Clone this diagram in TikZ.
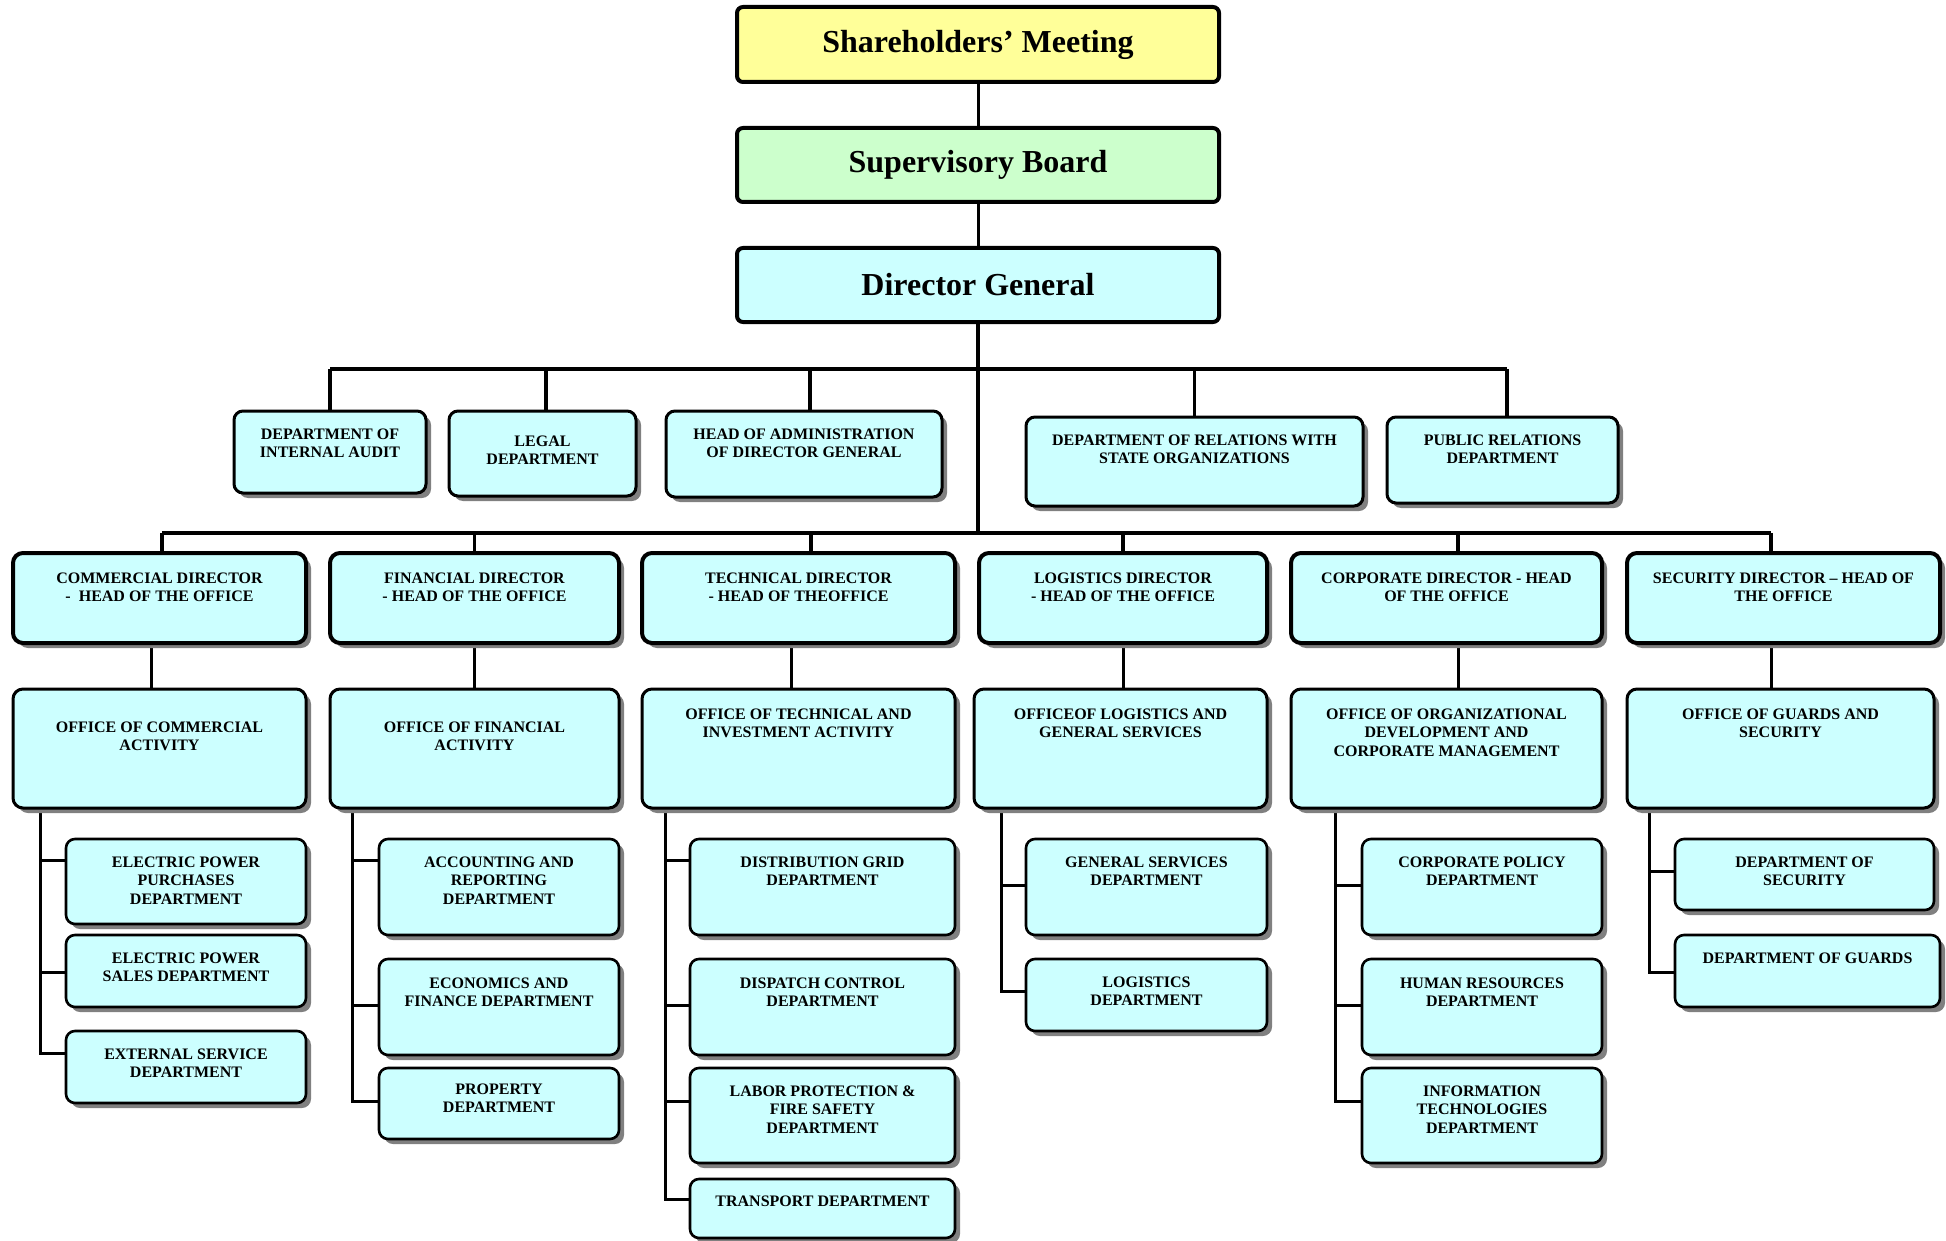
\documentclass[tikz,border=0pt]{standalone}
\usepackage{fontspec}
\setmainfont{Liberation Serif}
\usetikzlibrary{shadows}
\pgfdeclarelayer{bg}
\pgfsetlayers{bg,main}
\definecolor{cy}{HTML}{CCFFFF}
\definecolor{yl}{HTML}{FFFF99}
\definecolor{gr}{HTML}{CCFFCC}
\definecolor{shd}{HTML}{808080}
\tikzset{
  boxbase/.style={draw, inner sep=0pt, fill=cy},
  shd/.style={general shadow={fill=shd, shadow xshift=5pt, shadow yshift=-5pt}},
  smallfont/.style={font=\bfseries\fontsize{16}{18.5}\selectfont},
  topbox/.style={boxbase, line width=4pt, rounded corners=6pt, font=\bfseries\fontsize{32}{36}\selectfont},
  stf/.style={boxbase, shd, line width=3pt, rounded corners=9pt, smallfont},
  dir/.style={boxbase, shd, line width=4pt, rounded corners=10pt, smallfont},
  off/.style={boxbase, shd, line width=3pt, rounded corners=10pt, smallfont},
  leaf/.style={boxbase, shd, line width=2.6pt, rounded corners=9pt, smallfont},
  bus/.style={line width=3.3pt},
  link/.style={line width=3pt},
  spine/.style={line width=2.5pt},
}
% #1 style, #2 name, #3 x1, #4 y1, #5 x2, #6 y2, #7 first baseline from top, #8 text
\newcommand\bx[8]{%
  \node[#1] (#2) at ({(#3+#5)/2},{(#4+#6)/2})
    {\parbox[c][\dimexpr#6pt-#4pt\relax][t]{\dimexpr#5pt-#3pt\relax}{\centering\rule{0pt}{#7pt}#8}};}
\newcommand\tbx[7]{%
  \node[#1] (#2) at ({(#3+#5)/2},{(#4+#6)/2})
    {\parbox[c][\dimexpr#6pt-#4pt\relax][c]{\dimexpr#5pt-#3pt\relax}{\centering #7}};}
\newcommand\brn[3]{%
  \path (#1.north west) ++(0,#2) coordinate (#1-b);
  \begin{pgfonlayer}{bg}\draw[spine] (#1-b -| #3) -- (#1-b);\end{pgfonlayer}}
\begin{document}
\begin{tikzpicture}[x=1pt,y=-1pt]
\useasboundingbox (0,0) rectangle (1946,1241);
\begin{pgfonlayer}{bg}
\fill[white] (0,0) rectangle (1946,1241);
\end{pgfonlayer}
% top
\tbx{topbox, fill=yl}{share}{737}{7}{1219}{82}{Shareholders’ Meeting}
\tbx{topbox, fill=gr}{super}{737}{128}{1219}{202}{Supervisory Board}
\tbx{topbox}{dg}{737}{248}{1219}{322}{Director General}
% staff
\bx{stf}{audit}{234}{411}{426}{493}{28}{DEPARTMENT OF\\INTERNAL AUDIT}
\bx{stf}{legal}{449}{411}{636}{496}{35}{LEGAL\\DEPARTMENT}
\bx{stf}{admin}{666}{411}{942}{497}{28}{HEAD OF ADMINISTRATION\\OF DIRECTOR GENERAL}
\bx{stf}{state}{1026}{417}{1363}{506}{28}{DEPARTMENT OF RELATIONS WITH\\STATE ORGANIZATIONS}
\bx{stf}{pr}{1387}{417}{1618}{503}{28}{PUBLIC RELATIONS\\DEPARTMENT}
% directors
\bx{dir}{comdir}{13}{553}{306}{643}{30}{COMMERCIAL DIRECTOR\\-\ \ HEAD OF THE OFFICE}
\bx{dir}{findir}{330}{553}{619}{643}{30}{FINANCIAL DIRECTOR\\- HEAD OF THE OFFICE}
\bx{dir}{tecdir}{642}{553}{955}{643}{30}{TECHNICAL DIRECTOR\\- HEAD OF THEOFFICE}
\bx{dir}{logdir}{979}{553}{1267}{643}{30}{LOGISTICS DIRECTOR\\- HEAD OF THE OFFICE}
\bx{dir}{cordir}{1291}{553}{1602}{643}{30}{CORPORATE DIRECTOR - HEAD\\OF THE OFFICE}
\bx{dir}{secdir}{1627}{553}{1940}{643}{30}{SECURITY DIRECTOR – HEAD OF\\THE OFFICE}
% offices
\bx{off}{comoff}{13}{689}{306}{808}{43}{OFFICE OF COMMERCIAL\\ACTIVITY}
\bx{off}{finoff}{330}{689}{619}{808}{43}{OFFICE OF FINANCIAL\\ACTIVITY}
\bx{off}{tecoff}{642}{689}{955}{808}{30}{OFFICE OF TECHNICAL AND\\INVESTMENT ACTIVITY}
\bx{off}{logoff}{974}{689}{1267}{808}{30}{OFFICEOF LOGISTICS AND\\GENERAL SERVICES}
\bx{off}{coroff}{1291}{689}{1602}{808}{30}{OFFICE OF ORGANIZATIONAL\\DEVELOPMENT AND\\CORPORATE MANAGEMENT}
\bx{off}{secoff}{1627}{689}{1934}{808}{30}{OFFICE OF GUARDS AND\\SECURITY}
% leaves: commercial
\bx{leaf}{purch}{66}{839}{306}{924}{28}{ELECTRIC POWER\\PURCHASES\\DEPARTMENT}
\bx{leaf}{sales}{66}{935}{306}{1007}{28}{ELECTRIC POWER\\SALES DEPARTMENT}
\bx{leaf}{ext}{66}{1031}{306}{1103}{28}{EXTERNAL SERVICE\\DEPARTMENT}
% financial
\bx{leaf}{acc}{379}{839}{619}{935}{28}{ACCOUNTING AND\\REPORTING\\DEPARTMENT}
\bx{leaf}{eco}{379}{959}{619}{1055}{29}{ECONOMICS AND\\FINANCE DEPARTMENT}
\bx{leaf}{prop}{379}{1068}{619}{1139}{26}{PROPERTY\\DEPARTMENT}
% technical
\bx{leaf}{dist}{690}{839}{955}{935}{28}{DISTRIBUTION GRID\\DEPARTMENT}
\bx{leaf}{disp}{690}{959}{955}{1055}{29}{DISPATCH CONTROL\\DEPARTMENT}
\bx{leaf}{labor}{690}{1068}{955}{1163}{28}{LABOR PROTECTION \&\\FIRE SAFETY\\DEPARTMENT}
\bx{leaf}{trans}{690}{1179}{955}{1238}{27}{TRANSPORT DEPARTMENT}
% logistics
\bx{leaf}{gen}{1026}{839}{1267}{935}{28}{GENERAL SERVICES\\DEPARTMENT}
\bx{leaf}{logd}{1026}{959}{1267}{1031}{28}{LOGISTICS\\DEPARTMENT}
% corporate
\bx{leaf}{cpol}{1362}{839}{1602}{935}{28}{CORPORATE POLICY\\DEPARTMENT}
\bx{leaf}{hr}{1362}{959}{1602}{1055}{29}{HUMAN RESOURCES\\DEPARTMENT}
\bx{leaf}{it}{1362}{1068}{1602}{1163}{28}{INFORMATION\\TECHNOLOGIES\\DEPARTMENT}
% security
\bx{leaf}{sdep}{1675}{839}{1934}{910}{28}{DEPARTMENT OF\\SECURITY}
\bx{leaf}{guard}{1675}{935}{1940}{1007}{28}{DEPARTMENT OF GUARDS}

% connectors
\coordinate (bus1) at (978,369);
\coordinate (bus2) at (978,533);
\begin{pgfonlayer}{bg}
\draw[link] (share.south) -- (super.north);
\draw[link] (super.south) -- (dg.north);
\draw[bus] (dg.south) -- (bus2);
% bus 1
\draw[bus] (audit.north |- bus1) -- ([xshift=4.5pt]pr.north |- bus1);
\draw[bus] (audit.north) -- (audit.north |- bus1);
\draw[bus] ([xshift=3.5pt]legal.north) -- ([xshift=3.5pt]legal.north |- bus1);
\draw[bus] ([xshift=6pt]admin.north) -- ([xshift=6pt]admin.north |- bus1);
\draw[bus] (state.north) -- (state.north |- bus1);
\draw[bus] ([xshift=4.5pt]pr.north) -- ([xshift=4.5pt]pr.north |- bus1);
% bus 2
\draw[bus] ([xshift=2.5pt]comdir.north |- bus2) -- ([xshift=-12.5pt]secdir.north |- bus2);
\draw[bus] ([xshift=2.5pt]comdir.north) -- ([xshift=2.5pt]comdir.north |- bus2);
\draw[bus] (findir.north) -- (findir.north |- bus2);
\draw[bus] ([xshift=12.5pt]tecdir.north) -- ([xshift=12.5pt]tecdir.north |- bus2);
\draw[bus] (logdir.north) -- (logdir.north |- bus2);
\draw[bus] ([xshift=11.5pt]cordir.north) -- ([xshift=11.5pt]cordir.north |- bus2);
\draw[bus] ([xshift=-12.5pt]secdir.north) -- ([xshift=-12.5pt]secdir.north |- bus2);
% director -> office
\draw[link] ([xshift=-8.5pt]comdir.south) -- ([xshift=-8.5pt]comdir.south |- comoff.north);
\draw[link] (findir.south) -- (finoff.north);
\draw[link] ([xshift=-7.5pt]tecdir.south) -- ([xshift=-7.5pt]tecdir.south |- tecoff.north);
\draw[link] (logdir.south) -- (logdir.south |- logoff.north);
\draw[link] ([xshift=11.5pt]cordir.south) -- ([xshift=11.5pt]cordir.south |- coroff.north);
\draw[link] ([xshift=-12.5pt]secdir.south) -- ([xshift=-12.5pt]secdir.south |- secoff.north);
\end{pgfonlayer}
% spines
\coordinate (cs1) at ([xshift=29pt]comoff.south west);
\coordinate (cs2) at ([xshift=24pt]finoff.south west);
\coordinate (cs3) at ([xshift=25pt]tecoff.south west);
\coordinate (cs4) at ([xshift=29pt]logoff.south west);
\coordinate (cs5) at ([xshift=46pt]coroff.south west);
\coordinate (cs6) at ([xshift=24pt]secoff.south west);
\brn{purch}{23}{cs1}\brn{sales}{39}{cs1}\brn{ext}{24}{cs1}
\brn{acc}{23}{cs2}\brn{eco}{48}{cs2}\brn{prop}{35}{cs2}
\brn{dist}{23}{cs3}\brn{disp}{48}{cs3}\brn{labor}{35}{cs3}\brn{trans}{22}{cs3}
\brn{gen}{48}{cs4}\brn{logd}{34}{cs4}
\brn{cpol}{48}{cs5}\brn{hr}{48}{cs5}\brn{it}{35}{cs5}
\brn{sdep}{34}{cs6}\brn{guard}{39}{cs6}
\begin{pgfonlayer}{bg}
\draw[spine] (cs1) |- (ext-b);
\draw[spine] (cs2) |- (prop-b);
\draw[spine] (cs3) |- (trans-b);
\draw[spine] (cs4) |- (logd-b);
\draw[spine] (cs5) |- (it-b);
\draw[spine] (cs6) |- (guard-b);
\end{pgfonlayer}
\end{tikzpicture}
\end{document}
